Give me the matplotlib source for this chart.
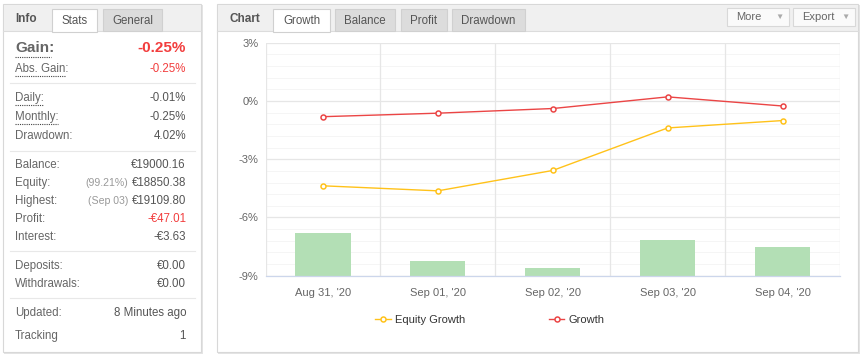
import numpy as np
import matplotlib
matplotlib.use('Agg')
from matplotlib import pyplot as plt
from matplotlib.patches import Rectangle

# chart data
days = ["Aug 31, '20", "Sep 01, '20", "Sep 02, '20", "Sep 03, '20", "Sep 04, '20"]
growth = [-0.81, -0.63, -0.39, 0.21, -0.26]
equity_growth = [-4.37, -4.63, -3.58, -1.39, -1.01]
bar_top = [-6.81, -8.23, -8.61, -7.17, -7.53]
y_ticks = [3, 0, -3, -6, -9]

# stats panel rows: (label, note, value, value colour)
rows = [
    ("Abs. Gain:", "", "-0.25%", "red"),
    ("Daily:", "", "-0.01%", "grey"),
    ("Monthly:", "", "-0.25%", "grey"),
    ("Drawdown:", "", "4.02%", "grey"),
    ("Balance:", "", "€19000.16", "grey"),
    ("Equity:", "(99.21%)", "€18850.38", "grey"),
    ("Highest:", "(Sep 03)", "€19109.80", "grey"),
    ("Profit:", "", "-€47.01", "red"),
    ("Interest:", "", "-€3.63", "grey"),
    ("Deposits:", "", "€0.00", "grey"),
    ("Withdrawals:", "", "€0.00", "grey"),
    ("Updated:", "", "8 Minutes ago", "grey"),
    ("Tracking", "", "1", "grey"),
]
row_y = [69, 98, 117, 136, 165, 183, 201, 219, 237, 266, 284, 313, 336]

plt.rcParams['font.family'] = ['Liberation Sans', 'DejaVu Sans']
RED = '#f23d3d'
GREY = '#555555'
LIGHT = '#999999'

W, H = 860, 356
fig = plt.figure(figsize=(W/100, H/100), dpi=100)
bg = fig.add_axes([0, 0, 1, 1])
bg.set_xlim(0, W)
bg.set_ylim(H, 0)
bg.axis('off')

def box(x0, y0, x1, y1, fc, ec='none', lw=0.8, z=1):
    bg.add_patch(Rectangle((x0, y0), x1-x0, y1-y0, facecolor=fc, edgecolor=ec, lw=lw, zorder=z))

# panels with shadow
for (x0, x1) in [(3, 201), (217, 858)]:
    box(x0+1, 5, x1+2, 354, '#e4e4e4', z=0)
    box(x0, 4, x1, 352, 'white', ec='#d8d8d8', z=1)
    box(x0+0.5, 4.5, x1-0.5, 31, '#f0f0f0', z=2)
    bg.plot([x0, x1], [31, 31], color='#dcdcdc', lw=0.8, zorder=3)

# tabs
def tab(x0, x1, text, active):
    fc = 'white' if active else '#dcdcdc'
    box(x0, 9, x1, 31.5 if active else 31, fc, ec='#d0d0d0', z=4)
    bg.text((x0+x1)/2, 21, text, ha='center', va='center', fontsize=8.3, color='#555555', zorder=5)

bg.text(15, 19, 'Info', fontsize=8.5, fontweight='bold', color='#555555', va='center', zorder=5)
tab(52, 97, 'Stats', True)
tab(103, 162, 'General', False)
bg.text(229, 19, 'Chart', fontsize=8.5, fontweight='bold', color='#555555', va='center', zorder=5)
tab(273, 330, 'Growth', True)
tab(335, 395, 'Balance', False)
tab(401, 447, 'Profit', False)
tab(452, 525, 'Drawdown', False)
for x0, x1, t in [(727, 789, 'More'), (793, 855, 'Export')]:
    box(x0, 8, x1, 26, '#fafafa', ec='#d8d8d8', z=4)
    bg.text(x0+9, 17, t, fontsize=8, color='#666666', va='center', zorder=5)
    bg.text(x1-10, 17, '▼', fontsize=6, color='#aaaaaa', va='center', ha='center', zorder=5)

# stats text
bg.text(15, 48, 'Gain:', fontsize=11, fontweight='bold', color='#666666', va='center', zorder=5)
bg.text(186, 48, '-0.25%', fontsize=11, fontweight='bold', color=RED, va='center', ha='right', zorder=5)
notes = []
for (lab, note, val, col), y in zip(rows, row_y):
    bg.text(15, y, lab, fontsize=8.3, color='#666666', va='center', zorder=5)
    t = bg.text(186, y, val, fontsize=8.3, color=RED if col == 'red' else GREY, va='center', ha='right', zorder=5)
    if note:
        notes.append((t, note, y))

fig.canvas.draw()
inv = bg.transData.inverted()
for t, note, y in notes:
    ext = t.get_window_extent()
    xl = inv.transform((ext.x0, ext.y0))[0]
    bg.text(xl - 3, y, note, fontsize=7.6, color=LIGHT, va='center', ha='right', zorder=5)

# dotted underlines
for y, x1 in [(57, 51), (76, 66), (105, 43), (124, 58)]:
    bg.plot([15, x1], [y, y], color='#444444', lw=0.8, ls=(0, (1, 1)), zorder=5)
for y in [83, 151, 251, 298]:
    bg.plot([10, 195], [y, y], color='#e8e8e8', lw=0.8, zorder=5)

# chart axes
L, R, T, B = 265.5, 840, 42.7, 275.7
ax = fig.add_axes([L/W, 1-B/H, (R-L)/W, (B-T)/H], zorder=10)
ax.patch.set_alpha(0)
x = np.arange(len(days))
ax.set_xlim(-0.5, len(days)-0.5)
ax.set_ylim(-9, 3)

for v in np.arange(-9, 3.01, 0.6):
    ax.axhline(v, color='#f5f5f5', lw=0.7, zorder=0)
for v in y_ticks:
    ax.axhline(v, color='#e6e6e6', lw=0.9, zorder=0)
for v in np.arange(-0.5, len(days), 1):
    ax.axvline(v, color='#e6e6e6', lw=0.9, zorder=0)

ax.bar(x, np.array(bar_top) + 9, bottom=-9, width=0.48, color='#b3dfb5', edgecolor='none', zorder=2)
l1, = ax.plot(x, equity_growth, color='#ffc21a', lw=1.0, marker='o', ms=3.6,
              mfc='white', mec='#ffc21a', mew=1.1, zorder=3, label='Equity Growth')
l2, = ax.plot(x, growth, color='#eb4545', lw=1.0, marker='o', ms=3.6,
              mfc='white', mec='#eb4545', mew=1.1, zorder=3, label='Growth')

for s in ['left', 'right', 'top']:
    ax.spines[s].set_visible(False)
ax.spines['bottom'].set_color('#ccd6eb')
ax.spines['bottom'].set_linewidth(0.9)
ax.set_yticks(y_ticks)
ax.set_yticklabels(['%d%%' % v for v in y_ticks])
ax.set_xticks(x)
ax.set_xticklabels(days)
ax.tick_params(axis='both', length=0, labelsize=8, colors='#666666')
ax.tick_params(axis='y', pad=5)
ax.tick_params(axis='x', pad=9)

fig.legend(handles=[l1, l2], loc='center', bbox_to_anchor=(490/W, 1-320/H), ncol=2,
           frameon=False, fontsize=8, labelcolor='#333333', handlelength=1.4,
           handletextpad=0.4, columnspacing=7.5)

fig.savefig('out.png', dpi=100, facecolor='white')
